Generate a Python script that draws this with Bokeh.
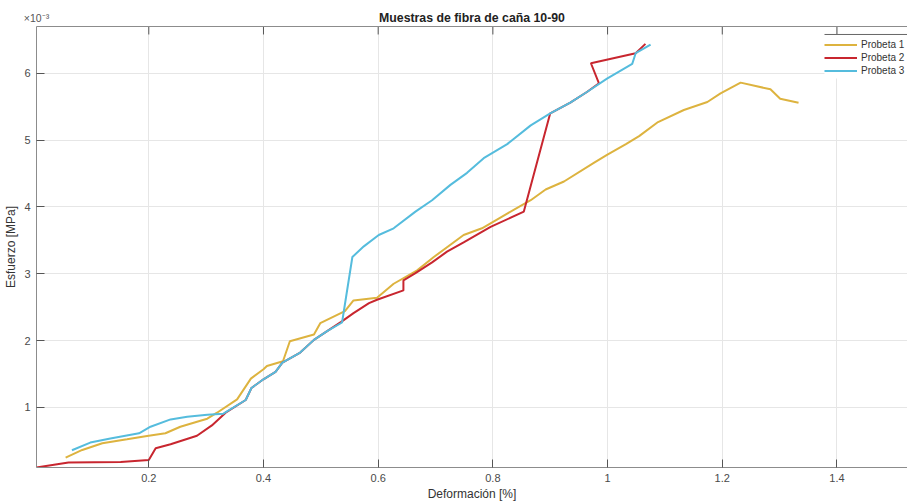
from bokeh.plotting import figure
from bokeh.models import Range1d, LinearAxis, Legend, LegendItem, FixedTicker
from bokeh.embed import file_html
from bokeh.resources import INLINE

# Probeta 1 (deformación [%], esfuerzo [MPa] x 1e-3)
def_p1 = [0.055, 0.084, 0.119, 0.162, 0.197, 0.229, 0.255, 0.290, 0.302, 0.319,
          0.354, 0.378, 0.400, 0.406, 0.434, 0.446, 0.488, 0.499, 0.542, 0.557,
          0.598, 0.627, 0.668, 0.697, 0.749, 0.781, 0.825, 0.866, 0.892, 0.924,
          0.976, 0.999, 1.032, 1.055, 1.088, 1.133, 1.174, 1.197, 1.232, 1.284,
          1.301, 1.333]
esf_p1 = [0.249, 0.363, 0.463, 0.522, 0.572, 0.612, 0.71, 0.80, 0.83, 0.92,
          1.12, 1.43, 1.57, 1.62, 1.69, 1.99, 2.09, 2.26, 2.44, 2.60,
          2.64, 2.85, 3.05, 3.25, 3.58, 3.68, 3.90, 4.10, 4.26, 4.38,
          4.66, 4.78, 4.94, 5.06, 5.27, 5.45, 5.57, 5.70, 5.86, 5.76,
          5.62, 5.56]

# Probeta 2
def_p2 = [0.004, 0.060, 0.151, 0.200, 0.212, 0.238, 0.284, 0.310, 0.334, 0.369,
          0.379, 0.400, 0.421, 0.433, 0.464, 0.488, 0.511, 0.5355, 0.557, 0.584,
          0.598, 0.644, 0.644, 0.665, 0.694, 0.720, 0.749, 0.796, 0.854, 0.900,
          0.935, 0.964, 0.985, 0.971, 1.049, 1.066]
esf_p2 = [0.10, 0.175, 0.184, 0.213, 0.388, 0.448, 0.575, 0.73, 0.92, 1.11,
          1.29, 1.42, 1.53, 1.67, 1.82, 2.01, 2.14, 2.28, 2.41, 2.56,
          2.61, 2.75, 2.90, 3.01, 3.17, 3.33, 3.47, 3.70, 3.93, 5.40,
          5.56, 5.72, 5.85, 6.15, 6.30, 6.44]

# Probeta 3
def_p3 = [0.066, 0.098, 0.133, 0.183, 0.203, 0.238, 0.267, 0.302, 0.330, 0.369,
          0.379, 0.400, 0.421, 0.433, 0.464, 0.488, 0.511, 0.537, 0.555, 0.575,
          0.601, 0.627, 0.665, 0.694, 0.726, 0.755, 0.784, 0.825, 0.866, 0.900,
          0.935, 0.964, 0.999, 1.043, 1.049, 1.075]
esf_p3 = [0.358, 0.473, 0.533, 0.612, 0.71, 0.82, 0.86, 0.89, 0.906, 1.11,
          1.29, 1.42, 1.53, 1.67, 1.82, 2.01, 2.14, 2.27, 3.25, 3.41,
          3.58, 3.68, 3.93, 4.10, 4.33, 4.51, 4.73, 4.94, 5.22, 5.40,
          5.56, 5.72, 5.92, 6.14, 6.30, 6.43]

x_ticks = [0.2, 0.4, 0.6, 0.8, 1.0, 1.2, 1.4]
y_ticks = [1, 2, 3, 4, 5, 6]
labels = ["Probeta 1", "Probeta 2", "Probeta 3"]
colors = ["#DDB33F", "#C8262F", "#55BCDD"]
title_text = "Muestras de fibra de caña 10-90"
exponent_text = "×10⁻³"

FONT = "Liberation Sans"
X0, X1 = 0.0042, 1.523
Y0, Y1 = 0.1, 6.7
FRAME_W, FRAME_H = 871, 442
px_y = (Y1 - Y0) / FRAME_H
px_x = (X1 - X0) / FRAME_W

p = figure(width=907, height=503, output_backend="svg", toolbar_location=None,
           x_range=Range1d(X0, X1), y_range=Range1d(Y0, Y1),
           min_border_left=36, min_border_right=0, min_border_top=26, min_border_bottom=35,
           x_axis_label="Deformación [%]", y_axis_label="Esfuerzo [MPa]")
p.outline_line_color = None
p.background_fill_color = "white"
p.border_fill_color = "white"

for ax, ticks in ((p.xaxis[0], x_ticks), (p.yaxis[0], y_ticks)):
    ax.ticker = FixedTicker(ticks=ticks)
    ax.major_tick_in = 8
    ax.major_tick_out = 0
    ax.minor_tick_line_color = None
    ax.axis_line_color = "#8c8c8c"
    ax.major_tick_line_color = "#555555"
    ax.major_label_text_font = FONT
    ax.major_label_text_font_size = "11px"
    ax.major_label_text_color = "#4a4a4a"
    ax.axis_label_text_font = FONT
    ax.axis_label_text_font_size = "12px"
    ax.axis_label_text_font_style = "normal"
    ax.axis_label_text_color = "#333333"
p.xaxis.major_label_standoff = 6
p.xaxis.axis_label_standoff = 2
p.yaxis.major_label_standoff = 6
p.yaxis.axis_label_standoff = 3

# top border: carries the exponent label and the title
top = LinearAxis(ticker=FixedTicker(ticks=[X0]), major_tick_in=0, major_tick_out=0,
                 major_tick_line_color=None, minor_tick_line_color=None,
                 axis_line_color="#8c8c8c",
                 major_label_overrides={X0: exponent_text},
                 major_label_text_align="left", major_label_standoff=3,
                 major_label_text_font=FONT, major_label_text_font_size="10.5px",
                 major_label_text_color="#555555",
                 axis_label=title_text, axis_label_standoff=-16,
                 axis_label_text_font=FONT, axis_label_text_font_size="12.3px",
                 axis_label_text_font_style="bold", axis_label_text_color="#222222")
p.add_layout(top, "above")

p.xgrid.ticker = FixedTicker(ticks=x_ticks)
p.ygrid.ticker = FixedTicker(ticks=y_ticks)
p.grid.grid_line_color = "#e6e6e6"

# inward tick marks on the top border
p.segment(x0=x_ticks, y0=[Y1] * len(x_ticks), x1=x_ticks, y1=[Y1 - 8 * px_y] * len(x_ticks),
          line_color="#555555", line_width=1)

r1 = p.line(def_p1, esf_p1, line_color=colors[0], line_width=2)
r2 = p.line(def_p2, esf_p2, line_color=colors[1], line_width=2)
r3 = p.line(def_p3, esf_p3, line_color=colors[2], line_width=2)

# legend box: white background with its top edge
leg_left = X0 + 788 * px_x
leg_top = Y1 - 8 * px_y
leg_bottom = Y1 - 52 * px_y
p.quad(left=[leg_left], right=[X1], top=[leg_top], bottom=[leg_bottom],
       fill_color="white", line_color=None)
p.segment(x0=[leg_left], y0=[leg_top], x1=[X1], y1=[leg_top], line_color="#666666", line_width=1)

legend = Legend(items=[LegendItem(label=labels[i], renderers=[r]) for i, r in enumerate([r1, r2, r3])],
                location=(788, FRAME_H - 9 - 47 + 4), padding=3, spacing=0, margin=0,
                label_height=13, glyph_height=13, glyph_width=33, label_standoff=4,
                label_text_font=FONT, label_text_font_size="10px", label_text_color="#333333",
                border_line_color=None, background_fill_alpha=0.0)
p.add_layout(legend, "center")

open("out.html", "w").write(file_html(p, INLINE))
